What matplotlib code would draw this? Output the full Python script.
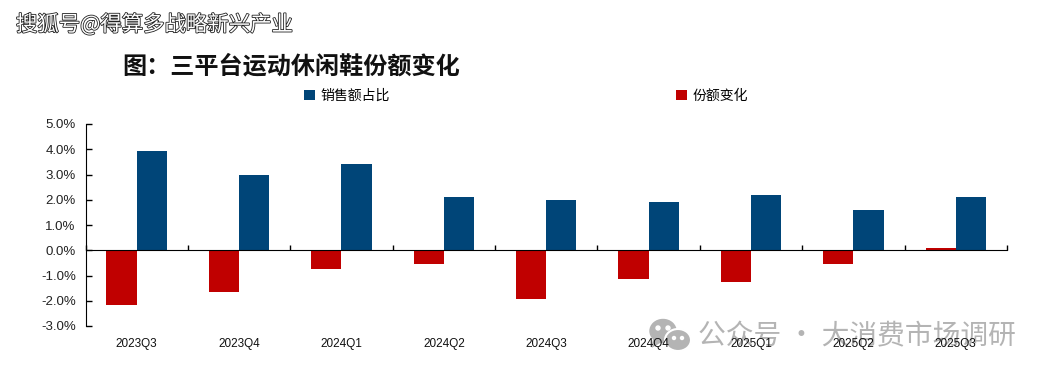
import numpy as np
import matplotlib
matplotlib.use("Agg")
import matplotlib.pyplot as plt
import matplotlib.patheffects as pe
from matplotlib.patches import Ellipse, Polygon

plt.rcParams['font.family'] = ['Noto Sans CJK SC', 'DejaVu Sans']

# Data
quarters = ['2023Q3', '2023Q4', '2024Q1', '2024Q2', '2024Q3', '2024Q4', '2025Q1', '2025Q2', '2025Q3']
share = [3.95, 3.0, 3.4, 2.1, 2.0, 1.9, 2.2, 1.6, 2.1]
change = [-2.15, -1.65, -0.75, -0.55, -1.95, -1.15, -1.25, -0.55, 0.1]
yticks = [-3, -2, -1, 0, 1, 2, 3, 4, 5]

W, H = 1051, 378
fig = plt.figure(figsize=(W / 100, H / 100), dpi=100)


def fx(px):
    return px / W


def fy(px):
    return 1 - px / H


# Watermark goes under the axes (negative zorder so tick labels stay on top)
fig.patches.append(Ellipse((fx(663), fy(331)), 26 / W, 23 / H, transform=fig.transFigure, color='#b4b4b4', zorder=-3))
fig.patches.append(Polygon([[fx(654), fy(338)], [fx(652), fy(347)], [fx(662), fy(341)]],
                           transform=fig.transFigure, color='#b4b4b4', zorder=-3))
fig.patches.append(Ellipse((fx(678), fy(340)), 26 / W, 22 / H, transform=fig.transFigure,
                           facecolor='#b4b4b4', edgecolor='white', linewidth=1.5, zorder=-3))
for ex, ey, r in [(658, 328, 2), (668, 328, 2), (674, 338, 1.5), (682, 338, 1.5)]:
    fig.patches.append(Ellipse((fx(ex), fy(ey)), 2 * r / W, 2 * r / H, transform=fig.transFigure,
                               color='white', zorder=-2))
fig.text(fx(698), fy(336), '公众号 · 大消费市场调研', fontsize=20, color='#b4b4b4', va='center', ha='left', zorder=-2)

ax = fig.add_axes([fx(85.5), fy(326), (1007 - 85.5) / W, (326 - 124) / H])
ax.patch.set_visible(False)

x = np.arange(len(quarters))
width = 0.295
ax.bar(x - width / 2, change, width, color='#c00000', label='份额变化', zorder=2)
ax.bar(x + width / 2, share, width, color='#004578', label='销售额占比', zorder=2)

ax.set_xlim(-0.5, len(quarters) - 0.5)
ax.set_ylim(-3, 5)
ax.set_yticks(yticks)
ax.set_yticklabels(['%.1f%%' % v for v in yticks], fontsize=9.5, color='#222222', family='Liberation Sans')
ax.tick_params(axis='y', length=4.5, width=1, direction='in', pad=7)

ax.spines['top'].set_visible(False)
ax.spines['right'].set_visible(False)
ax.spines['bottom'].set_position(('data', 0))

ax.set_xticks(x)
ax.set_xticklabels(quarters, fontsize=8.5, color='#111111', family='Liberation Sans')
ax.tick_params(axis='x', which='major', length=0, pad=63)
ax.set_xticks(np.append(x - 0.5, x[-1] + 0.5), minor=True)
ax.tick_params(axis='x', which='minor', length=3.5, width=1, direction='in')

# legend order: blue first, far apart
handles, labels = ax.get_legend_handles_labels()
fig.legend(handles[::-1], labels[::-1], ncols=2, frameon=False, fontsize=10,
           loc='center left', bbox_to_anchor=(fx(291), fy(96)),
           handlelength=0.8, handleheight=0.8, handletextpad=0.4, columnspacing=20.6)

fig.text(fx(122), fy(66), '图\uff1a三平台运动休闲鞋份额变化', fontsize=17.4, fontweight='bold',
         color='#111111', va='center', ha='left')
fig.text(fx(16), fy(25), '搜狐号@得算多战略新兴产业', fontsize=15.4, color='white', va='center', ha='left',
         path_effects=[pe.withStroke(linewidth=1.2, foreground='#222222')])

fig.savefig('out.png', dpi=100)
